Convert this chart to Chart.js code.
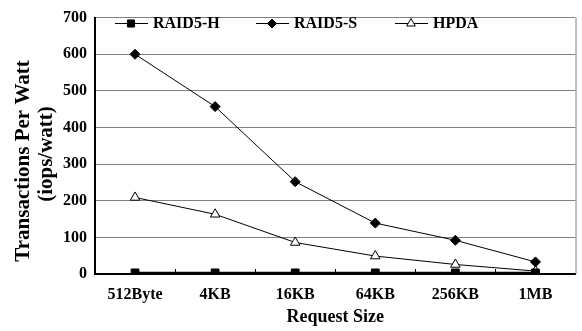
<!DOCTYPE html>
<html>
<head>
<meta charset="utf-8">
<script src="https://cdn.jsdelivr.net/npm/chart.js@4"></script>
<style>
  html, body { margin: 0; padding: 0; background: #fff; }
  #wrap { width: 582px; height: 331px; }
</style>
</head>
<body>
<div id="wrap"><canvas id="chart"></canvas></div>
<script>
// data
const sizes = ['512Byte', '4KB', '16KB', '64KB', '256KB', '1MB'];
const raid5H = [3, 3, 3, 3, 3, 3];
const raid5S = [600, 457, 252, 139, 92, 33];
const hpda = [209, 163, 86, 49, 26, 8];
const yTicks = [0, 100, 200, 300, 400, 500, 600, 700];

const FONT = '"Liberation Serif", "Times New Roman", serif';

// legend drawn inside the plot, y title, frame and x tick marks
const extras = {
  id: 'extras',
  afterDatasetsDraw(chart) {
    const c = chart.ctx, a = chart.chartArea;
    c.save();
    // right border
    c.strokeStyle = '#808080';
    c.lineWidth = 1;
    c.beginPath();
    c.moveTo(a.right + 0.5, a.top);
    c.lineTo(a.right + 0.5, a.bottom);
    c.stroke();
    // small tick marks on category boundaries
    c.strokeStyle = '#000';
    const n = sizes.length, w = (a.right - a.left) / n;
    for (let i = 1; i < n; i++) {
      const x = Math.round(a.left + i * w) + 0.5;
      c.beginPath();
      c.moveTo(x, a.bottom);
      c.lineTo(x, a.bottom - 5);
      c.stroke();
    }
    // legend
    const items = [
      { x: 115, label: 'RAID5-H', ds: 0 },
      { x: 256, label: 'RAID5-S', ds: 1 },
      { x: 395, label: 'HPDA', ds: 2 }
    ];
    const ly = 23;
    c.font = 'bold 16px ' + FONT;
    c.textBaseline = 'middle';
    items.forEach(it => {
      const d = chart.data.datasets[it.ds];
      c.strokeStyle = '#000';
      c.lineWidth = 1;
      c.beginPath();
      c.moveTo(it.x, ly + 0.5);
      c.lineTo(it.x + 33, ly + 0.5);
      c.stroke();
      c.fillStyle = d.pointBackgroundColor;
      Chart.helpers.drawPoint(c, {
        pointStyle: d.pointStyle,
        radius: d.pointRadius - 0.5,
        borderWidth: 1
      }, it.x + 16, ly + 0.5);
      c.fillStyle = '#000';
      c.fillText(it.label, it.x + 38, ly + 1);
    });
    // y axis title, two lines
    c.font = 'bold 21px ' + FONT;
    c.textAlign = 'center';
    c.textBaseline = 'middle';
    c.fillStyle = '#000';
    [['Transactions Per Watt', 24, 161], ['(iops/watt)', 47, 154]].forEach(([t, x, y]) => {
      c.save();
      c.translate(x, y);
      c.rotate(-Math.PI / 2);
      c.fillText(t, 0, 0);
      c.restore();
    });
    c.restore();
  }
};

const ds = (label, data, style, radius, fill) => ({
  label,
  data,
  borderColor: '#000',
  borderWidth: 1,
  pointStyle: style,
  pointRadius: radius,
  pointHoverRadius: radius,
  pointBackgroundColor: fill,
  pointBorderColor: '#000',
  pointBorderWidth: 1,
  tension: 0
});

const chart = new Chart(document.getElementById('chart'), {
  type: 'line',
  data: {
    labels: sizes,
    datasets: [
      Object.assign(ds('RAID5-H', raid5H, 'rect', 5.5, '#000'), { borderWidth: 2.5 }),
      ds('RAID5-S', raid5S, 'rectRot', 5, '#000'),
      ds('HPDA', hpda, 'triangle', 5.5, '#fff')
    ]
  },
  options: {
    responsive: true,
    maintainAspectRatio: false,
    animation: false,
    layout: { padding: { top: 13, right: 4, left: 0, bottom: 0 } },
    plugins: {
      legend: { display: false },
      tooltip: { enabled: false }
    },
    scales: {
      x: {
        offset: true,
        afterFit(scale) { scale.height = 57; },
        grid: { display: false, drawTicks: false },
        border: { color: '#000', width: 2 },
        ticks: {
          color: '#000',
          padding: 11,
          font: { family: FONT, size: 16, weight: 'bold' }
        },
        title: {
          display: true,
          text: 'Request Size',
          color: '#000',
          padding: { top: 0, bottom: 3 },
          font: { family: FONT, size: 18, weight: 'bold' }
        }
      },
      y: {
        min: 0,
        max: 700,
        afterFit(scale) { scale.width = 95; },
        afterBuildTicks(scale) {
          scale.ticks = yTicks.map(v => ({ value: v }));
        },
        grid: { color: '#808080', lineWidth: 1, drawTicks: false },
        border: { color: '#000', width: 2 },
        ticks: {
          color: '#000',
          padding: 8,
          font: { family: FONT, size: 16, weight: 'bold' }
        }
      }
    }
  },
  plugins: [extras]
});
</script>
</body>
</html>
